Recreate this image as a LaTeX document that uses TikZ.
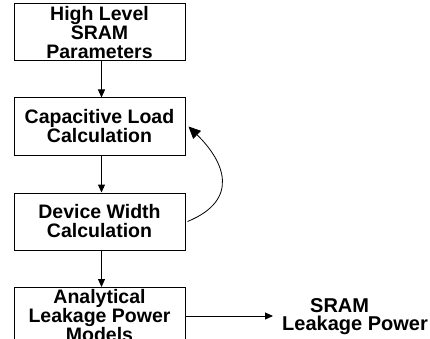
\documentclass[tikz,border=0pt]{standalone}
\usepackage{fontspec}
\setmainfont{Liberation Sans}
\usepackage{tikz}
\usetikzlibrary{positioning, arrows.meta, calc}
\tikzset{
  block/.style={
    rectangle, draw, line width=1pt, minimum width=171pt, minimum height=57pt,
    inner sep=0pt, align=center, font=\fontsize{19.5}{19}\selectfont\bfseries
  },
  flow/.style={draw, line width=1pt, -{Triangle[length=8pt, width=7pt]}},
  loopback/.style={draw, line width=0.8pt, -{Triangle[length=12pt, width=11pt]}},
  outlabel/.style={inner sep=0pt, align=left, font=\fontsize{20}{17.5}\selectfont\bfseries},
}
\begin{document}
\begin{tikzpicture}[x=1pt, y=-1pt]
  \useasboundingbox (0,0) rectangle (430,339);
  \clip (0,0) rectangle (430,339);

  % flow blocks
  \node[block] (params) at (99.5,32.5) {High Level\\SRAM\\Parameters};
  \node[block] (load) at (99.5,126.5) {Capacitive Load\\Calculation};
  \node[block] (width) at (99.5,221.5) {Device Width\\Calculation};
  \node[block] (models) at (99.5,316) {Analytical\\Leakage Power\\Models};
  \node[outlabel, anchor=west] (out) at (282,316.5) {\hspace*{28pt}SRAM\\Leakage Power};

  % arrows
  \draw[flow] ([xshift=2pt]params.south) -- ([xshift=2pt]load.north);
  \draw[flow] ([xshift=2pt]load.south) -- ([xshift=2pt]width.north);
  \draw[flow] ([xshift=2pt]width.south) -- ([xshift=2pt]models.north);
  \draw[loopback] ([xshift=2pt]width.east) .. controls (240,200) and (225,162) .. ([xshift=3pt]load.east);
  \draw[flow, shorten >=9pt] (models.east) -- (models.east -| out.west);
\end{tikzpicture}
\end{document}
